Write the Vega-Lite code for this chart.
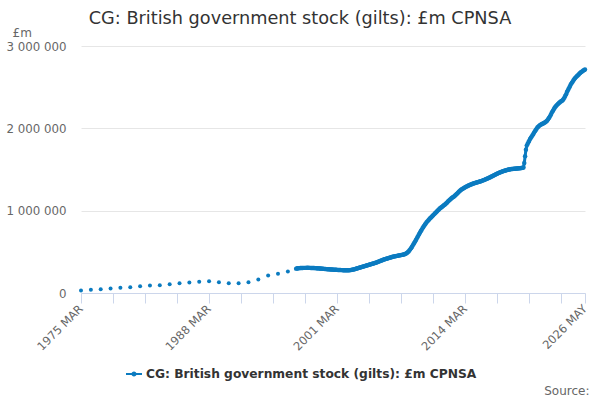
{
  "$schema": "https://vega.github.io/schema/vega-lite/v6.json",
  "width": 504,
  "height": 247,
  "autosize": {"type": "none"},
  "padding": {"left": 81, "top": 46, "right": 15, "bottom": 107},
  "background": "white",
  "title": {
    "text": "CG: British government stock (gilts): £m CPNSA",
    "anchor": "middle",
    "dx": -33,
    "offset": -2,
    "fontSize": 17.7,
    "fontWeight": "normal",
    "font": "DejaVu Sans",
    "color": "#333333"
  },
  "datasets": {
    "annual": [
      {"d": "1975-03-01", "v": 30000},
      {"d": "1976-03-01", "v": 39000},
      {"d": "1977-03-01", "v": 46000},
      {"d": "1978-03-01", "v": 55000},
      {"d": "1979-03-01", "v": 63000},
      {"d": "1980-03-01", "v": 70000},
      {"d": "1981-03-01", "v": 83000},
      {"d": "1982-03-01", "v": 91000},
      {"d": "1983-03-01", "v": 95000},
      {"d": "1984-03-01", "v": 107000},
      {"d": "1985-03-01", "v": 119000},
      {"d": "1986-03-01", "v": 127000},
      {"d": "1987-03-01", "v": 136000},
      {"d": "1988-03-01", "v": 143000},
      {"d": "1989-03-01", "v": 131000},
      {"d": "1990-03-01", "v": 119000},
      {"d": "1991-03-01", "v": 119000},
      {"d": "1992-03-01", "v": 131000},
      {"d": "1993-03-01", "v": 164000},
      {"d": "1994-03-01", "v": 212000},
      {"d": "1995-03-01", "v": 233000},
      {"d": "1996-03-01", "v": 261000}
    ],
    "monthly": [
      {"d": "1997-01-01", "v": 296000}, {"d": "1997-02-01", "v": 298000}, {"d": "1997-03-01", "v": 300000}, {"d": "1997-04-01", "v": 301000},
      {"d": "1997-05-01", "v": 302000}, {"d": "1997-06-01", "v": 303000}, {"d": "1997-07-01", "v": 303000}, {"d": "1997-08-01", "v": 304000},
      {"d": "1997-09-01", "v": 304000}, {"d": "1997-10-01", "v": 305000}, {"d": "1997-11-01", "v": 305000}, {"d": "1997-12-01", "v": 305000},
      {"d": "1998-01-01", "v": 305000}, {"d": "1998-02-01", "v": 306000}, {"d": "1998-03-01", "v": 305000}, {"d": "1998-04-01", "v": 306000},
      {"d": "1998-05-01", "v": 305000}, {"d": "1998-06-01", "v": 305000}, {"d": "1998-07-01", "v": 304000}, {"d": "1998-08-01", "v": 304000},
      {"d": "1998-09-01", "v": 304000}, {"d": "1998-10-01", "v": 303000}, {"d": "1998-11-01", "v": 303000}, {"d": "1998-12-01", "v": 302000},
      {"d": "1999-01-01", "v": 302000}, {"d": "1999-02-01", "v": 301000}, {"d": "1999-03-01", "v": 300000}, {"d": "1999-04-01", "v": 299000},
      {"d": "1999-05-01", "v": 299000}, {"d": "1999-06-01", "v": 298000}, {"d": "1999-07-01", "v": 297000}, {"d": "1999-08-01", "v": 296000},
      {"d": "1999-09-01", "v": 295000}, {"d": "1999-10-01", "v": 294000}, {"d": "1999-11-01", "v": 293000}, {"d": "1999-12-01", "v": 292000},
      {"d": "2000-01-01", "v": 291000}, {"d": "2000-02-01", "v": 290000}, {"d": "2000-03-01", "v": 289000}, {"d": "2000-04-01", "v": 289000},
      {"d": "2000-05-01", "v": 288000}, {"d": "2000-06-01", "v": 287000}, {"d": "2000-07-01", "v": 286000}, {"d": "2000-08-01", "v": 286000},
      {"d": "2000-09-01", "v": 285000}, {"d": "2000-10-01", "v": 284000}, {"d": "2000-11-01", "v": 283000}, {"d": "2000-12-01", "v": 283000},
      {"d": "2001-01-01", "v": 282000}, {"d": "2001-02-01", "v": 282000}, {"d": "2001-03-01", "v": 281000}, {"d": "2001-04-01", "v": 280000},
      {"d": "2001-05-01", "v": 280000}, {"d": "2001-06-01", "v": 279000}, {"d": "2001-07-01", "v": 279000}, {"d": "2001-08-01", "v": 278000},
      {"d": "2001-09-01", "v": 278000}, {"d": "2001-10-01", "v": 277000}, {"d": "2001-11-01", "v": 277000}, {"d": "2001-12-01", "v": 276000},
      {"d": "2002-01-01", "v": 276000}, {"d": "2002-02-01", "v": 275000}, {"d": "2002-03-01", "v": 275000}, {"d": "2002-04-01", "v": 275000},
      {"d": "2002-05-01", "v": 276000}, {"d": "2002-06-01", "v": 277000}, {"d": "2002-07-01", "v": 278000}, {"d": "2002-08-01", "v": 280000},
      {"d": "2002-09-01", "v": 282000}, {"d": "2002-10-01", "v": 284000}, {"d": "2002-11-01", "v": 286000}, {"d": "2002-12-01", "v": 289000},
      {"d": "2003-01-01", "v": 292000}, {"d": "2003-02-01", "v": 295000}, {"d": "2003-03-01", "v": 298000}, {"d": "2003-04-01", "v": 301000},
      {"d": "2003-05-01", "v": 304000}, {"d": "2003-06-01", "v": 307000}, {"d": "2003-07-01", "v": 310000}, {"d": "2003-08-01", "v": 313000},
      {"d": "2003-09-01", "v": 316000}, {"d": "2003-10-01", "v": 319000}, {"d": "2003-11-01", "v": 322000}, {"d": "2003-12-01", "v": 325000},
      {"d": "2004-01-01", "v": 328000}, {"d": "2004-02-01", "v": 331000}, {"d": "2004-03-01", "v": 334000}, {"d": "2004-04-01", "v": 337000},
      {"d": "2004-05-01", "v": 340000}, {"d": "2004-06-01", "v": 343000}, {"d": "2004-07-01", "v": 346000}, {"d": "2004-08-01", "v": 349000},
      {"d": "2004-09-01", "v": 352000}, {"d": "2004-10-01", "v": 355000}, {"d": "2004-11-01", "v": 358000}, {"d": "2004-12-01", "v": 361000},
      {"d": "2005-01-01", "v": 364000}, {"d": "2005-02-01", "v": 367000}, {"d": "2005-03-01", "v": 371000}, {"d": "2005-04-01", "v": 375000},
      {"d": "2005-05-01", "v": 379000}, {"d": "2005-06-01", "v": 383000}, {"d": "2005-07-01", "v": 387000}, {"d": "2005-08-01", "v": 391000},
      {"d": "2005-09-01", "v": 395000}, {"d": "2005-10-01", "v": 399000}, {"d": "2005-11-01", "v": 403000}, {"d": "2005-12-01", "v": 407000},
      {"d": "2006-01-01", "v": 410000}, {"d": "2006-02-01", "v": 413000}, {"d": "2006-03-01", "v": 416000}, {"d": "2006-04-01", "v": 419000},
      {"d": "2006-05-01", "v": 422000}, {"d": "2006-06-01", "v": 425000}, {"d": "2006-07-01", "v": 428000}, {"d": "2006-08-01", "v": 431000},
      {"d": "2006-09-01", "v": 434000}, {"d": "2006-10-01", "v": 437000}, {"d": "2006-11-01", "v": 440000}, {"d": "2006-12-01", "v": 443000},
      {"d": "2007-01-01", "v": 445000}, {"d": "2007-02-01", "v": 447000}, {"d": "2007-03-01", "v": 449000}, {"d": "2007-04-01", "v": 451000},
      {"d": "2007-05-01", "v": 453000}, {"d": "2007-06-01", "v": 455000}, {"d": "2007-07-01", "v": 457000}, {"d": "2007-08-01", "v": 459000},
      {"d": "2007-09-01", "v": 461000}, {"d": "2007-10-01", "v": 463000}, {"d": "2007-11-01", "v": 465000}, {"d": "2007-12-01", "v": 468000},
      {"d": "2008-01-01", "v": 471000}, {"d": "2008-02-01", "v": 475000}, {"d": "2008-03-01", "v": 480000}, {"d": "2008-04-01", "v": 486000},
      {"d": "2008-05-01", "v": 494000}, {"d": "2008-06-01", "v": 504000}, {"d": "2008-07-01", "v": 516000}, {"d": "2008-08-01", "v": 530000},
      {"d": "2008-09-01", "v": 545000}, {"d": "2008-10-01", "v": 560000}, {"d": "2008-11-01", "v": 576000}, {"d": "2008-12-01", "v": 593000},
      {"d": "2009-01-01", "v": 610000}, {"d": "2009-02-01", "v": 627000}, {"d": "2009-03-01", "v": 645000}, {"d": "2009-04-01", "v": 663000},
      {"d": "2009-05-01", "v": 681000}, {"d": "2009-06-01", "v": 699000}, {"d": "2009-07-01", "v": 717000}, {"d": "2009-08-01", "v": 735000},
      {"d": "2009-09-01", "v": 752000}, {"d": "2009-10-01", "v": 769000}, {"d": "2009-11-01", "v": 786000}, {"d": "2009-12-01", "v": 802000},
      {"d": "2010-01-01", "v": 818000}, {"d": "2010-02-01", "v": 832000}, {"d": "2010-03-01", "v": 845000}, {"d": "2010-04-01", "v": 858000},
      {"d": "2010-05-01", "v": 870000}, {"d": "2010-06-01", "v": 882000}, {"d": "2010-07-01", "v": 893000}, {"d": "2010-08-01", "v": 904000},
      {"d": "2010-09-01", "v": 914000}, {"d": "2010-10-01", "v": 924000}, {"d": "2010-11-01", "v": 934000}, {"d": "2010-12-01", "v": 944000},
      {"d": "2011-01-01", "v": 955000}, {"d": "2011-02-01", "v": 965000}, {"d": "2011-03-01", "v": 975000}, {"d": "2011-04-01", "v": 985000},
      {"d": "2011-05-01", "v": 995000}, {"d": "2011-06-01", "v": 1005000}, {"d": "2011-07-01", "v": 1015000}, {"d": "2011-08-01", "v": 1025000},
      {"d": "2011-09-01", "v": 1033000}, {"d": "2011-10-01", "v": 1041000}, {"d": "2011-11-01", "v": 1049000}, {"d": "2011-12-01", "v": 1057000},
      {"d": "2012-01-01", "v": 1065000}, {"d": "2012-02-01", "v": 1073000}, {"d": "2012-03-01", "v": 1082000}, {"d": "2012-04-01", "v": 1091000},
      {"d": "2012-05-01", "v": 1100000}, {"d": "2012-06-01", "v": 1110000}, {"d": "2012-07-01", "v": 1120000}, {"d": "2012-08-01", "v": 1130000},
      {"d": "2012-09-01", "v": 1140000}, {"d": "2012-10-01", "v": 1149000}, {"d": "2012-11-01", "v": 1157000}, {"d": "2012-12-01", "v": 1164000},
      {"d": "2013-01-01", "v": 1170000}, {"d": "2013-02-01", "v": 1178000}, {"d": "2013-03-01", "v": 1187000}, {"d": "2013-04-01", "v": 1196000},
      {"d": "2013-05-01", "v": 1206000}, {"d": "2013-06-01", "v": 1216000}, {"d": "2013-07-01", "v": 1226000}, {"d": "2013-08-01", "v": 1236000},
      {"d": "2013-09-01", "v": 1245000}, {"d": "2013-10-01", "v": 1253000}, {"d": "2013-11-01", "v": 1260000}, {"d": "2013-12-01", "v": 1266000},
      {"d": "2014-01-01", "v": 1272000}, {"d": "2014-02-01", "v": 1278000}, {"d": "2014-03-01", "v": 1284000}, {"d": "2014-04-01", "v": 1290000},
      {"d": "2014-05-01", "v": 1295000}, {"d": "2014-06-01", "v": 1300000}, {"d": "2014-07-01", "v": 1305000}, {"d": "2014-08-01", "v": 1310000},
      {"d": "2014-09-01", "v": 1314000}, {"d": "2014-10-01", "v": 1318000}, {"d": "2014-11-01", "v": 1322000}, {"d": "2014-12-01", "v": 1326000},
      {"d": "2015-01-01", "v": 1329000}, {"d": "2015-02-01", "v": 1332000}, {"d": "2015-03-01", "v": 1336000}, {"d": "2015-04-01", "v": 1339000},
      {"d": "2015-05-01", "v": 1342000}, {"d": "2015-06-01", "v": 1345000}, {"d": "2015-07-01", "v": 1348000}, {"d": "2015-08-01", "v": 1351000},
      {"d": "2015-09-01", "v": 1354000}, {"d": "2015-10-01", "v": 1357000}, {"d": "2015-11-01", "v": 1361000}, {"d": "2015-12-01", "v": 1365000},
      {"d": "2016-01-01", "v": 1369000}, {"d": "2016-02-01", "v": 1373000}, {"d": "2016-03-01", "v": 1377000}, {"d": "2016-04-01", "v": 1382000},
      {"d": "2016-05-01", "v": 1386000}, {"d": "2016-06-01", "v": 1391000}, {"d": "2016-07-01", "v": 1395000}, {"d": "2016-08-01", "v": 1399000},
      {"d": "2016-09-01", "v": 1404000}, {"d": "2016-10-01", "v": 1409000}, {"d": "2016-11-01", "v": 1414000}, {"d": "2016-12-01", "v": 1419000},
      {"d": "2017-01-01", "v": 1424000}, {"d": "2017-02-01", "v": 1429000}, {"d": "2017-03-01", "v": 1434000}, {"d": "2017-04-01", "v": 1439000},
      {"d": "2017-05-01", "v": 1444000}, {"d": "2017-06-01", "v": 1449000}, {"d": "2017-07-01", "v": 1454000}, {"d": "2017-08-01", "v": 1459000},
      {"d": "2017-09-01", "v": 1463000}, {"d": "2017-10-01", "v": 1467000}, {"d": "2017-11-01", "v": 1471000}, {"d": "2017-12-01", "v": 1475000},
      {"d": "2018-01-01", "v": 1478000}, {"d": "2018-02-01", "v": 1481000}, {"d": "2018-03-01", "v": 1484000}, {"d": "2018-04-01", "v": 1487000},
      {"d": "2018-05-01", "v": 1490000}, {"d": "2018-06-01", "v": 1493000}, {"d": "2018-07-01", "v": 1496000}, {"d": "2018-08-01", "v": 1499000},
      {"d": "2018-09-01", "v": 1501000}, {"d": "2018-10-01", "v": 1503000}, {"d": "2018-11-01", "v": 1505000}, {"d": "2018-12-01", "v": 1506000},
      {"d": "2019-01-01", "v": 1507000}, {"d": "2019-02-01", "v": 1508000}, {"d": "2019-03-01", "v": 1509000}, {"d": "2019-04-01", "v": 1510000},
      {"d": "2019-05-01", "v": 1511000}, {"d": "2019-06-01", "v": 1512000}, {"d": "2019-07-01", "v": 1513000}, {"d": "2019-08-01", "v": 1514000},
      {"d": "2019-09-01", "v": 1515000}, {"d": "2019-10-01", "v": 1516000}, {"d": "2019-11-01", "v": 1517000}, {"d": "2019-12-01", "v": 1518000},
      {"d": "2020-01-01", "v": 1520000}, {"d": "2020-02-01", "v": 1524000}, {"d": "2020-03-01", "v": 1580000}, {"d": "2020-04-01", "v": 1660000},
      {"d": "2020-05-01", "v": 1740000}, {"d": "2020-06-01", "v": 1790000}, {"d": "2020-07-01", "v": 1810000}, {"d": "2020-08-01", "v": 1830000},
      {"d": "2020-09-01", "v": 1850000}, {"d": "2020-10-01", "v": 1870000}, {"d": "2020-11-01", "v": 1885000}, {"d": "2020-12-01", "v": 1900000},
      {"d": "2021-01-01", "v": 1915000}, {"d": "2021-02-01", "v": 1930000}, {"d": "2021-03-01", "v": 1950000}, {"d": "2021-04-01", "v": 1965000},
      {"d": "2021-05-01", "v": 1980000}, {"d": "2021-06-01", "v": 1995000}, {"d": "2021-07-01", "v": 2010000}, {"d": "2021-08-01", "v": 2020000},
      {"d": "2021-09-01", "v": 2030000}, {"d": "2021-10-01", "v": 2038000}, {"d": "2021-11-01", "v": 2045000}, {"d": "2021-12-01", "v": 2050000},
      {"d": "2022-01-01", "v": 2055000}, {"d": "2022-02-01", "v": 2060000}, {"d": "2022-03-01", "v": 2065000}, {"d": "2022-04-01", "v": 2070000},
      {"d": "2022-05-01", "v": 2078000}, {"d": "2022-06-01", "v": 2085000}, {"d": "2022-07-01", "v": 2095000}, {"d": "2022-08-01", "v": 2110000},
      {"d": "2022-09-01", "v": 2125000}, {"d": "2022-10-01", "v": 2140000}, {"d": "2022-11-01", "v": 2160000}, {"d": "2022-12-01", "v": 2180000},
      {"d": "2023-01-01", "v": 2200000}, {"d": "2023-02-01", "v": 2215000}, {"d": "2023-03-01", "v": 2232000}, {"d": "2023-04-01", "v": 2250000},
      {"d": "2023-05-01", "v": 2262000}, {"d": "2023-06-01", "v": 2275000}, {"d": "2023-07-01", "v": 2285000}, {"d": "2023-08-01", "v": 2295000},
      {"d": "2023-09-01", "v": 2305000}, {"d": "2023-10-01", "v": 2315000}, {"d": "2023-11-01", "v": 2322000}, {"d": "2023-12-01", "v": 2330000},
      {"d": "2024-01-01", "v": 2335000}, {"d": "2024-02-01", "v": 2345000}, {"d": "2024-03-01", "v": 2360000}, {"d": "2024-04-01", "v": 2375000},
      {"d": "2024-05-01", "v": 2395000}, {"d": "2024-06-01", "v": 2415000}, {"d": "2024-07-01", "v": 2440000}, {"d": "2024-08-01", "v": 2460000},
      {"d": "2024-09-01", "v": 2480000}, {"d": "2024-10-01", "v": 2500000}, {"d": "2024-11-01", "v": 2520000}, {"d": "2024-12-01", "v": 2540000},
      {"d": "2025-01-01", "v": 2555000}, {"d": "2025-02-01", "v": 2570000}, {"d": "2025-03-01", "v": 2585000}, {"d": "2025-04-01", "v": 2600000},
      {"d": "2025-05-01", "v": 2612000}, {"d": "2025-06-01", "v": 2622000}, {"d": "2025-07-01", "v": 2632000}, {"d": "2025-08-01", "v": 2642000},
      {"d": "2025-09-01", "v": 2652000}, {"d": "2025-10-01", "v": 2662000}, {"d": "2025-11-01", "v": 2672000}, {"d": "2025-12-01", "v": 2680000},
      {"d": "2026-01-01", "v": 2688000}, {"d": "2026-02-01", "v": 2695000}, {"d": "2026-03-01", "v": 2702000}, {"d": "2026-04-01", "v": 2708000},
      {"d": "2026-05-01", "v": 2715000}
    ]
  },
  "encoding": {
    "x": {
      "field": "d",
      "type": "temporal",
      "scale": {
        "type": "utc",
        "nice": false,
        "domain": [
          {"year": 1975, "month": 3, "date": 1, "utc": true},
          {"year": 2026, "month": 5, "date": 1, "utc": true}
        ]
      },
      "axis": {
        "title": "Source:",
        "titleX": 508,
        "titleY": 101,
        "titleAlign": "right",
        "titleBaseline": "alphabetic",
        "titleFontSize": 12,
        "titleFontWeight": "normal",
        "titleColor": "#666666",
        "titleFont": "DejaVu Sans",
        "values": [
          {"year": 1975, "month": 3, "date": 1, "utc": true},
          {"year": 1978, "month": 6, "date": 1, "utc": true},
          {"year": 1981, "month": 9, "date": 1, "utc": true},
          {"year": 1984, "month": 12, "date": 1, "utc": true},
          {"year": 1988, "month": 3, "date": 1, "utc": true},
          {"year": 1991, "month": 6, "date": 1, "utc": true},
          {"year": 1994, "month": 9, "date": 1, "utc": true},
          {"year": 1997, "month": 12, "date": 1, "utc": true},
          {"year": 2001, "month": 3, "date": 1, "utc": true},
          {"year": 2004, "month": 6, "date": 1, "utc": true},
          {"year": 2007, "month": 9, "date": 1, "utc": true},
          {"year": 2010, "month": 12, "date": 1, "utc": true},
          {"year": 2014, "month": 3, "date": 1, "utc": true},
          {"year": 2017, "month": 6, "date": 1, "utc": true},
          {"year": 2020, "month": 9, "date": 1, "utc": true},
          {"year": 2023, "month": 12, "date": 1, "utc": true},
          {"year": 2026, "month": 5, "date": 1, "utc": true}
        ],
        "labelExpr": "utcmonth(datum.value) == 2 || utcyear(datum.value) == 2026 ? upper(utcFormat(datum.value, '%Y %b')) : ''",
        "labelAngle": -45,
        "labelAlign": "right",
        "labelBaseline": "middle",
        "labelPadding": 4,
        "labelFontSize": 11.5,
        "labelColor": "#666666",
        "labelFont": "DejaVu Sans",
        "labelOverlap": false,
        "labelBound": false,
        "labelFlush": false,
        "grid": false,
        "domainColor": "#ccd6eb",
        "tickColor": "#ccd6eb",
        "tickSize": 10
      }
    },
    "y": {
      "field": "v",
      "type": "quantitative",
      "scale": {"domain": [0, 3000000], "nice": false},
      "axis": {
        "title": "£m",
        "titleAngle": 0,
        "titleAlign": "left",
        "titleBaseline": "middle",
        "titleX": -69,
        "titleY": -14,
        "titleFontSize": 12,
        "titleFontWeight": "normal",
        "titleColor": "#666666",
        "titleFont": "DejaVu Sans",
        "values": [0, 1000000, 2000000, 3000000],
        "labelExpr": "datum.value == 0 ? '0' : format(datum.value / 1000000, 'd') + ' 000 000'",
        "labelFontSize": 11.8,
        "labelColor": "#666666",
        "labelFont": "DejaVu Sans",
        "labelPadding": 15,
        "ticks": false,
        "domain": false,
        "gridColor": "#e6e6e6"
      }
    }
  },
  "layer": [
    {
      "data": {"name": "monthly"},
      "mark": {
        "type": "line",
        "color": "#0b7bc0",
        "strokeWidth": 3,
        "point": {"filled": true, "size": 20, "color": "#0b7bc0"}
      }
    },
    {
      "data": {"name": "annual"},
      "mark": {"type": "circle", "size": 16, "opacity": 1},
      "encoding": {
        "color": {
          "datum": "CG: British government stock (gilts): £m CPNSA",
          "scale": {"range": ["#0b7bc0"]},
          "legend": {
            "title": null,
            "orient": "none",
            "legendX": 45,
            "legendY": 320,
            "symbolType": "M-1,-0.12H1V0.12H-1Z M-0.32,0 A0.32,0.32 0 1,1 0.32,0 A0.32,0.32 0 1,1 -0.32,0Z",
            "symbolSize": 256,
            "symbolStrokeWidth": 0,
            "labelFont": "DejaVu Sans",
            "labelFontSize": 12.25,
            "labelFontWeight": "bold",
            "labelColor": "#333333",
            "labelLimit": 600
          }
        }
      }
    }
  ],
  "config": {
    "view": {"stroke": null}
  }
}
